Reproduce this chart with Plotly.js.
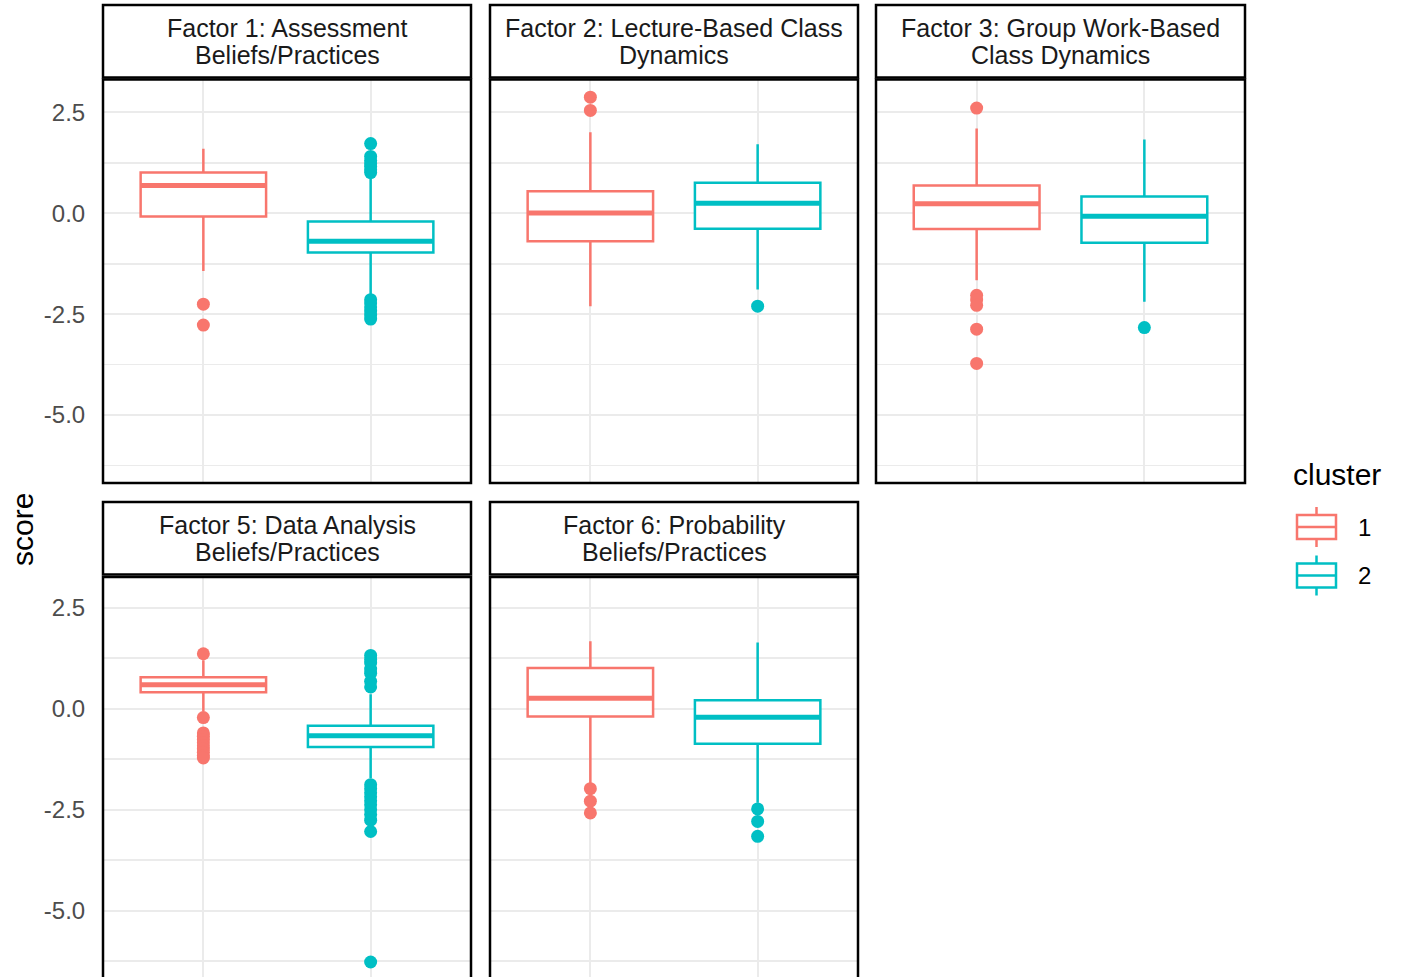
<!DOCTYPE html>
<html>
<head>
<meta charset="utf-8">
<script src="https://cdn.plot.ly/plotly-3.0.1.min.js"></script>
<style>
  html, body { margin: 0; padding: 0; background: #ffffff; }
  #chart { width: 1406px; height: 977px; }
</style>
</head>
<body>
<div id="chart"></div>
<script>
// Facet strip labels (two lines each)
const stripTop = ['Factor 1: Assessment', 'Factor 2: Lecture-Based Class', 'Factor 3: Group Work-Based', 'Factor 5: Data Analysis', 'Factor 6: Probability'];
const stripBottom = ['Beliefs/Practices', 'Dynamics', 'Class Dynamics', 'Beliefs/Practices', 'Beliefs/Practices'];

// Clusters on the discrete x axis
const clusterNames = ['1', '2'];
const clusterPos = [1, 2];
const clusterColors = ['#F8766D', '#00BFC4'];

// Box statistics per factor, cluster 1
const c1Lower  = [-1.43, -2.30, -1.66, -0.07, -1.84];
const c1Q1     = [-0.08, -0.69, -0.39,  0.41, -0.19];
const c1Median = [ 0.69,  0.01,  0.24,  0.59,  0.26];
const c1Q3     = [ 1.01,  0.55,  0.69,  0.78,  1.01];
const c1Upper  = [ 1.60,  2.01,  2.10,  1.20,  1.67];
const c1Outliers = [
  [-2.25, -2.77],
  [2.55, 2.88],
  [2.61, -2.03, -2.15, -2.28, -2.87, -3.72],
  [1.36, -0.22, -0.60, -0.68, -0.76, -0.84, -0.92, -1.00, -1.08, -1.16, -1.22],
  [-1.98, -2.29, -2.58]
];

// Box statistics per factor, cluster 2
const c2Lower  = [-2.05, -1.89, -2.19, -1.72, -2.33];
const c2Q1     = [-0.97, -0.38, -0.73, -0.95, -0.87];
const c2Median = [-0.69,  0.25, -0.07, -0.67, -0.21];
const c2Q3     = [-0.20,  0.76,  0.42, -0.42,  0.21];
const c2Upper  = [ 0.93,  1.71,  1.83,  0.36,  1.64];
const c2Outliers = [
  [1.01, 1.08, 1.16, 1.23, 1.31, 1.41, 1.73, -2.14, -2.22, -2.32, -2.42, -2.52, -2.62],
  [-2.30],
  [-2.83],
  [0.54, 0.68, 0.88, 0.98, 1.13, 1.22, 1.32, -1.88, -1.98, -2.08, -2.18, -2.28, -2.38, -2.50, -2.62, -2.76, -3.04, -6.27],
  [-2.48, -2.79, -3.16]
];

// y tick values and their labels (plain hyphen for negatives)
const yTicks = [-5, -2.5, 0, 2.5];
const yTickText = yTicks.map(v => v.toFixed(1));

const W = 1406, H = 977;
const px = v => v / W;
const py = v => 1 - v / H;

// Panel geometry (pixels): columns and rows of the 2x3 facet grid
const colX = [[103, 471], [490, 858], [876, 1245]];
const rows = [
  { stripTop: 5,   stripBot: 77.5,  top: 79.5, bot: 483, range: [-6.683, 3.317], line1: 28,  line2: 55 },
  { stripTop: 502, stripBot: 574.5, top: 577,  bot: 977, range: [-6.641, 3.260], line1: 525, line2: 552 }
];
const panelCell = [[0, 0], [0, 1], [0, 2], [1, 0], [1, 1]];

const clusters = [
  { lower: c1Lower, q1: c1Q1, median: c1Median, q3: c1Q3, upper: c1Upper, outliers: c1Outliers },
  { lower: c2Lower, q1: c2Q1, median: c2Median, q3: c2Q3, upper: c2Upper, outliers: c2Outliers }
];

const BOX_W = 0.75;
const FONT = 'Liberation Sans, Arial, Helvetica, sans-serif';
const GRID = '#ebebeb';

const traces = [];
const layout = {
  width: W, height: H,
  margin: { l: 0, r: 0, t: 0, b: 0 },
  paper_bgcolor: '#ffffff',
  plot_bgcolor: '#ffffff',
  showlegend: false,
  font: { family: FONT },
  shapes: [],
  annotations: []
};

panelCell.forEach(([r, c], p) => {
  const row = rows[r];
  const sfx = p === 0 ? '' : String(p + 1);
  const xa = 'x' + sfx, ya = 'y' + sfx;

  layout['xaxis' + sfx] = {
    domain: [px(colX[c][0]), px(colX[c][1])],
    range: [0.4, 2.6],
    anchor: ya,
    tickvals: clusterPos,
    showticklabels: false,
    ticks: '',
    showgrid: true, gridcolor: GRID, gridwidth: 2,
    zeroline: false, showline: false, fixedrange: true
  };
  layout['yaxis' + sfx] = {
    domain: [py(row.bot), py(row.top)],
    range: row.range,
    anchor: xa,
    tickmode: 'array',
    tickvals: yTicks,
    ticktext: yTickText,
    showticklabels: c === 0,
    ticks: c === 0 ? 'outside' : '',
    ticklen: 12, tickcolor: 'rgba(0,0,0,0)',
    tickfont: { size: 24, color: '#4d4d4d', family: FONT },
    showgrid: true, gridcolor: GRID, gridwidth: 2,
    minor: { dtick: 1.25, tick0: 0, showgrid: true, gridcolor: GRID, gridwidth: 1.5 },
    zeroline: false, showline: false, fixedrange: true
  };

  clusters.forEach((cl, k) => {
    const x0 = clusterPos[k];
    const col = clusterColors[k];
    traces.push({
      type: 'box', xaxis: xa, yaxis: ya,
      x: [x0],
      lowerfence: [cl.lower[p]], q1: [cl.q1[p]], median: [cl.median[p]],
      q3: [cl.q3[p]], upperfence: [cl.upper[p]],
      width: BOX_W, whiskerwidth: 0,
      boxpoints: false,
      line: { color: col, width: 2.5 },
      fillcolor: '#ffffff',
      hoverinfo: 'skip', name: clusterNames[k]
    });
    // thicker median bar
    traces.push({
      type: 'scatter', mode: 'lines', xaxis: xa, yaxis: ya,
      x: [x0 - BOX_W / 2, x0 + BOX_W / 2],
      y: [cl.median[p], cl.median[p]],
      line: { color: col, width: 5 },
      hoverinfo: 'skip', name: clusterNames[k]
    });
    traces.push({
      type: 'scatter', mode: 'markers', xaxis: xa, yaxis: ya,
      x: cl.outliers[p].map(() => x0),
      y: cl.outliers[p],
      marker: { color: col, size: 13 },
      hoverinfo: 'skip', name: clusterNames[k]
    });
  });

  const xl = px(colX[c][0]), xr = px(colX[c][1]);
  // strip box
  layout.shapes.push({
    type: 'rect', xref: 'paper', yref: 'paper', layer: 'above',
    x0: xl, x1: xr, y0: py(row.stripBot), y1: py(row.stripTop),
    line: { color: '#000000', width: 2.5 }, fillcolor: 'rgba(0,0,0,0)'
  });
  // panel border
  layout.shapes.push({
    type: 'rect', xref: 'paper', yref: 'paper', layer: 'above',
    x0: xl, x1: xr, y0: py(r === 1 ? row.bot + 20 : row.bot), y1: py(row.top),
    line: { color: '#000000', width: 2.5 }, fillcolor: 'rgba(0,0,0,0)'
  });
  const xm = (xl + xr) / 2;
  [[stripTop[p], row.line1], [stripBottom[p], row.line2]].forEach(([txt, yy]) => {
    layout.annotations.push({
      xref: 'paper', yref: 'paper', x: xm, y: py(yy),
      xanchor: 'center', yanchor: 'middle', showarrow: false,
      text: txt, font: { size: 25, color: '#1a1a1a', family: FONT }
    });
  });
});

// y axis title
layout.annotations.push({
  xref: 'paper', yref: 'paper', x: px(22), y: py(530),
  xanchor: 'center', yanchor: 'middle', showarrow: false, textangle: -90,
  text: 'score', font: { size: 30, color: '#000000', family: FONT }
});

// legend: title and box keys
layout.annotations.push({
  xref: 'paper', yref: 'paper', x: px(1291), y: py(474),
  xanchor: 'left', yanchor: 'middle', showarrow: false,
  text: 'cluster', font: { size: 30, color: '#000000', family: FONT }
});
clusterNames.forEach((nm, k) => {
  const cy = 527 + 48.5 * k;
  const col = clusterColors[k];
  const kx0 = 1297, kx1 = 1336, kxm = (kx0 + kx1) / 2;
  layout.shapes.push({
    type: 'rect', xref: 'paper', yref: 'paper',
    x0: px(kx0), x1: px(kx1), y0: py(cy + 12), y1: py(cy - 12),
    line: { color: col, width: 2.5 }, fillcolor: '#ffffff'
  });
  layout.shapes.push({
    type: 'line', xref: 'paper', yref: 'paper',
    x0: px(kx0), x1: px(kx1), y0: py(cy), y1: py(cy),
    line: { color: col, width: 2.5 }
  });
  layout.shapes.push({
    type: 'line', xref: 'paper', yref: 'paper',
    x0: px(kxm), x1: px(kxm), y0: py(cy - 12), y1: py(cy - 20),
    line: { color: col, width: 2.5 }
  });
  layout.shapes.push({
    type: 'line', xref: 'paper', yref: 'paper',
    x0: px(kxm), x1: px(kxm), y0: py(cy + 12), y1: py(cy + 20),
    line: { color: col, width: 2.5 }
  });
  layout.annotations.push({
    xref: 'paper', yref: 'paper', x: px(1356), y: py(cy),
    xanchor: 'left', yanchor: 'middle', showarrow: false,
    text: nm, font: { size: 24, color: '#000000', family: FONT }
  });
});

Plotly.newPlot('chart', traces, layout, { displayModeBar: false, staticPlot: true });
</script>
</body>
</html>
